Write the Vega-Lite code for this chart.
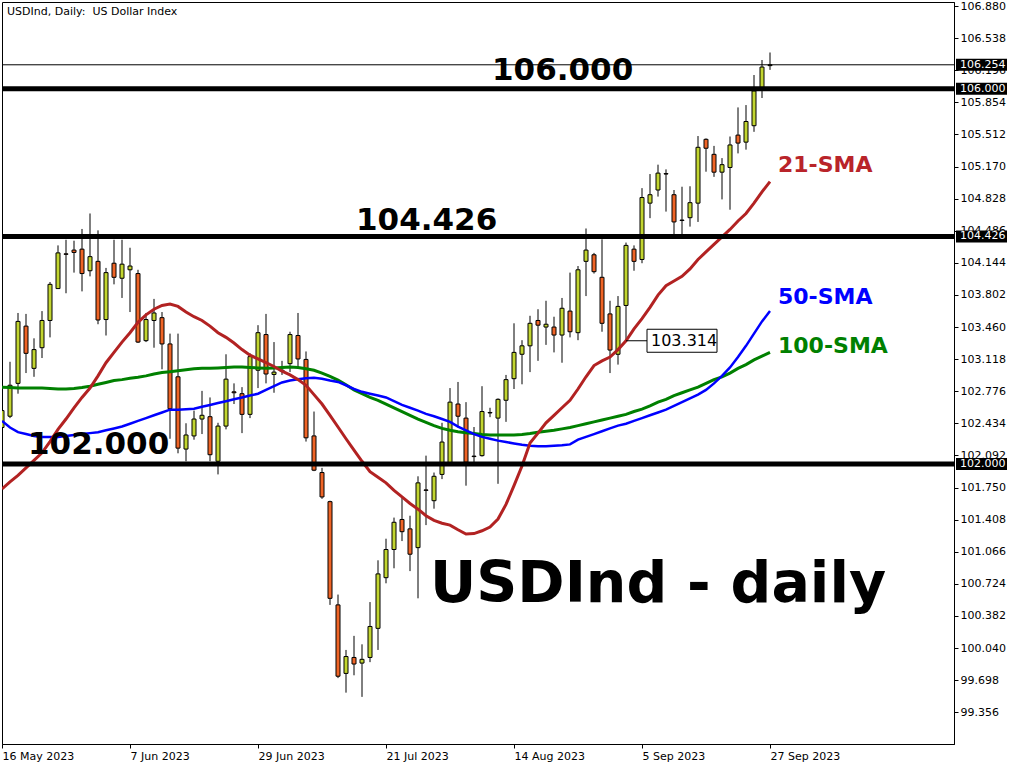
{
  "$schema": "https://vega.github.io/schema/vega-lite/v6.json",
  "width": 952,
  "height": 742,
  "autosize": {"type": "none"},
  "padding": {"left": 2, "top": 2, "right": 70, "bottom": 24},
  "background": "white",
  "config": {
    "view": {"stroke": "black", "strokeWidth": 1},
    "font": "DejaVu Sans",
    "axis": {"labelOverlap": false}
  },
  "datasets": {
    "bars": [
      {"d":"16 May 2023","o":102.39,"h":102.62,"l":102.33,"c":102.57,"s21":101.735,"s50":102.46,"s100":102.82},
      {"d":"17 May 2023","o":102.51,"h":103.09,"l":102.49,"c":102.84,"s21":101.81,"s50":102.39,"s100":102.815},
      {"d":"18 May 2023","o":102.86,"h":103.61,"l":102.75,"c":103.52,"s21":101.88,"s50":102.34,"s100":102.81},
      {"d":"19 May 2023","o":103.47,"h":103.60,"l":102.97,"c":103.18,"s21":101.96,"s50":102.32,"s100":102.81},
      {"d":"22 May 2023","o":103.02,"h":103.34,"l":102.93,"c":103.22,"s21":102.04,"s50":102.30,"s100":102.81},
      {"d":"23 May 2023","o":103.24,"h":103.63,"l":103.13,"c":103.53,"s21":102.12,"s50":102.29,"s100":102.81},
      {"d":"24 May 2023","o":103.53,"h":103.94,"l":103.35,"c":103.915,"s21":102.24,"s50":102.29,"s100":102.805},
      {"d":"25 May 2023","o":103.87,"h":104.33,"l":103.865,"c":104.25,"s21":102.37,"s50":102.29,"s100":102.80},
      {"d":"26 May 2023","o":104.24,"h":104.39,"l":103.82,"c":104.235,"s21":102.48,"s50":102.30,"s100":102.80},
      {"d":"29 May 2023","o":104.28,"h":104.38,"l":104.04,"c":104.255,"s21":102.60,"s50":102.31,"s100":102.805},
      {"d":"30 May 2023","o":104.29,"h":104.505,"l":103.84,"c":104.03,"s21":102.71,"s50":102.32,"s100":102.815},
      {"d":"31 May 2023","o":104.06,"h":104.67,"l":104.00,"c":104.21,"s21":102.81,"s50":102.33,"s100":102.83},
      {"d":"1 Jun 2023","o":104.16,"h":104.49,"l":103.49,"c":103.535,"s21":102.94,"s50":102.34,"s100":102.85},
      {"d":"2 Jun 2023","o":103.54,"h":104.09,"l":103.37,"c":104.04,"s21":103.08,"s50":102.36,"s100":102.87},
      {"d":"5 Jun 2023","o":104.14,"h":104.39,"l":103.915,"c":103.99,"s21":103.19,"s50":102.38,"s100":102.89},
      {"d":"6 Jun 2023","o":103.98,"h":104.39,"l":103.77,"c":104.13,"s21":103.30,"s50":102.40,"s100":102.90},
      {"d":"7 Jun 2023","o":104.07,"h":104.305,"l":103.62,"c":104.11,"s21":103.40,"s50":102.43,"s100":102.915},
      {"d":"8 Jun 2023","o":104.03,"h":104.07,"l":103.29,"c":103.30,"s21":103.51,"s50":102.46,"s100":102.925},
      {"d":"9 Jun 2023","o":103.315,"h":103.61,"l":103.30,"c":103.54,"s21":103.59,"s50":102.49,"s100":102.94},
      {"d":"12 Jun 2023","o":103.53,"h":103.76,"l":103.24,"c":103.61,"s21":103.65,"s50":102.52,"s100":102.96},
      {"d":"13 Jun 2023","o":103.56,"h":103.62,"l":103.01,"c":103.28,"s21":103.69,"s50":102.55,"s100":102.975},
      {"d":"14 Jun 2023","o":103.28,"h":103.39,"l":102.27,"c":102.59,"s21":103.705,"s50":102.58,"s100":102.985},
      {"d":"15 Jun 2023","o":102.93,"h":103.39,"l":102.115,"c":102.17,"s21":103.68,"s50":102.58,"s100":102.995},
      {"d":"16 Jun 2023","o":102.16,"h":102.435,"l":102.03,"c":102.31,"s21":103.62,"s50":102.585,"s100":103.005},
      {"d":"19 Jun 2023","o":102.30,"h":102.57,"l":102.26,"c":102.48,"s21":103.57,"s50":102.59,"s100":103.015},
      {"d":"20 Jun 2023","o":102.48,"h":102.78,"l":102.32,"c":102.52,"s21":103.53,"s50":102.61,"s100":103.02},
      {"d":"21 Jun 2023","o":102.505,"h":102.71,"l":102.03,"c":102.10,"s21":103.47,"s50":102.63,"s100":103.02},
      {"d":"22 Jun 2023","o":102.03,"h":102.44,"l":101.89,"c":102.405,"s21":103.40,"s50":102.65,"s100":103.025},
      {"d":"23 Jun 2023","o":102.405,"h":103.17,"l":102.37,"c":102.905,"s21":103.35,"s50":102.67,"s100":103.03},
      {"d":"26 Jun 2023","o":102.77,"h":102.86,"l":102.64,"c":102.76,"s21":103.29,"s50":102.69,"s100":103.035},
      {"d":"27 Jun 2023","o":102.75,"h":102.82,"l":102.33,"c":102.53,"s21":103.22,"s50":102.71,"s100":103.035},
      {"d":"28 Jun 2023","o":102.53,"h":103.18,"l":102.49,"c":103.145,"s21":103.16,"s50":102.73,"s100":103.03},
      {"d":"29 Jun 2023","o":103.00,"h":103.48,"l":102.81,"c":103.40,"s21":103.12,"s50":102.75,"s100":103.025},
      {"d":"30 Jun 2023","o":103.38,"h":103.60,"l":102.86,"c":102.96,"s21":103.08,"s50":102.79,"s100":103.02},
      {"d":"3 Jul 2023","o":102.955,"h":103.30,"l":102.76,"c":102.98,"s21":103.04,"s50":102.83,"s100":103.025},
      {"d":"4 Jul 2023","o":103.00,"h":103.10,"l":102.95,"c":102.99,"s21":102.99,"s50":102.87,"s100":103.03},
      {"d":"5 Jul 2023","o":103.07,"h":103.41,"l":102.98,"c":103.38,"s21":102.95,"s50":102.89,"s100":103.035},
      {"d":"6 Jul 2023","o":103.37,"h":103.61,"l":103.02,"c":103.12,"s21":102.90,"s50":102.905,"s100":103.03},
      {"d":"7 Jul 2023","o":103.115,"h":103.20,"l":102.24,"c":102.28,"s21":102.84,"s50":102.915,"s100":103.015},
      {"d":"10 Jul 2023","o":102.30,"h":102.56,"l":101.925,"c":101.935,"s21":102.74,"s50":102.92,"s100":103.00},
      {"d":"11 Jul 2023","o":101.91,"h":101.96,"l":101.63,"c":101.65,"s21":102.64,"s50":102.91,"s100":102.97},
      {"d":"12 Jul 2023","o":101.60,"h":101.61,"l":100.50,"c":100.57,"s21":102.52,"s50":102.89,"s100":102.935},
      {"d":"13 Jul 2023","o":100.50,"h":100.61,"l":99.72,"c":99.74,"s21":102.395,"s50":102.875,"s100":102.895},
      {"d":"14 Jul 2023","o":99.77,"h":100.02,"l":99.565,"c":99.95,"s21":102.27,"s50":102.84,"s100":102.845},
      {"d":"17 Jul 2023","o":99.94,"h":100.17,"l":99.75,"c":99.87,"s21":102.15,"s50":102.80,"s100":102.79},
      {"d":"18 Jul 2023","o":99.88,"h":100.08,"l":99.52,"c":99.92,"s21":102.03,"s50":102.77,"s100":102.75},
      {"d":"19 Jul 2023","o":99.94,"h":100.53,"l":99.89,"c":100.27,"s21":101.92,"s50":102.75,"s100":102.71},
      {"d":"20 Jul 2023","o":100.25,"h":100.975,"l":100.02,"c":100.83,"s21":101.86,"s50":102.73,"s100":102.68},
      {"d":"21 Jul 2023","o":100.79,"h":101.205,"l":100.73,"c":101.09,"s21":101.80,"s50":102.71,"s100":102.64},
      {"d":"24 Jul 2023","o":101.09,"h":101.43,"l":100.89,"c":101.38,"s21":101.72,"s50":102.67,"s100":102.60},
      {"d":"25 Jul 2023","o":101.41,"h":101.65,"l":101.18,"c":101.28,"s21":101.65,"s50":102.63,"s100":102.56},
      {"d":"26 Jul 2023","o":101.31,"h":101.45,"l":100.86,"c":101.04,"s21":101.58,"s50":102.60,"s100":102.52},
      {"d":"27 Jul 2023","o":101.11,"h":101.87,"l":100.57,"c":101.80,"s21":101.52,"s50":102.57,"s100":102.48},
      {"d":"28 Jul 2023","o":101.725,"h":102.09,"l":101.35,"c":101.72,"s21":101.45,"s50":102.535,"s100":102.445},
      {"d":"31 Jul 2023","o":101.61,"h":101.91,"l":101.525,"c":101.87,"s21":101.40,"s50":102.51,"s100":102.41},
      {"d":"1 Aug 2023","o":101.89,"h":102.44,"l":101.84,"c":102.235,"s21":101.37,"s50":102.48,"s100":102.38},
      {"d":"2 Aug 2023","o":102.01,"h":102.81,"l":101.98,"c":102.66,"s21":101.35,"s50":102.45,"s100":102.36},
      {"d":"3 Aug 2023","o":102.64,"h":102.875,"l":102.39,"c":102.51,"s21":101.30,"s50":102.40,"s100":102.345},
      {"d":"4 Aug 2023","o":102.49,"h":102.66,"l":101.77,"c":102.02,"s21":101.255,"s50":102.36,"s100":102.335},
      {"d":"7 Aug 2023","o":102.085,"h":102.395,"l":102.02,"c":102.08,"s21":101.26,"s50":102.32,"s100":102.325},
      {"d":"8 Aug 2023","o":102.09,"h":102.83,"l":102.08,"c":102.56,"s21":101.29,"s50":102.29,"s100":102.315},
      {"d":"9 Aug 2023","o":102.55,"h":102.60,"l":102.50,"c":102.545,"s21":101.33,"s50":102.27,"s100":102.31},
      {"d":"10 Aug 2023","o":102.49,"h":102.70,"l":101.79,"c":102.69,"s21":101.415,"s50":102.25,"s100":102.31},
      {"d":"11 Aug 2023","o":102.68,"h":102.95,"l":102.45,"c":102.90,"s21":101.57,"s50":102.235,"s100":102.31},
      {"d":"14 Aug 2023","o":102.91,"h":103.50,"l":102.80,"c":103.19,"s21":101.77,"s50":102.22,"s100":102.31},
      {"d":"15 Aug 2023","o":103.17,"h":103.32,"l":102.85,"c":103.26,"s21":101.98,"s50":102.205,"s100":102.315},
      {"d":"16 Aug 2023","o":103.26,"h":103.58,"l":102.98,"c":103.50,"s21":102.225,"s50":102.195,"s100":102.325},
      {"d":"17 Aug 2023","o":103.53,"h":103.65,"l":103.10,"c":103.48,"s21":102.33,"s50":102.19,"s100":102.34},
      {"d":"18 Aug 2023","o":103.46,"h":103.74,"l":103.27,"c":103.49,"s21":102.44,"s50":102.19,"s100":102.35},
      {"d":"21 Aug 2023","o":103.46,"h":103.57,"l":103.19,"c":103.375,"s21":102.52,"s50":102.195,"s100":102.36},
      {"d":"22 Aug 2023","o":103.375,"h":103.77,"l":103.08,"c":103.66,"s21":102.60,"s50":102.20,"s100":102.375},
      {"d":"23 Aug 2023","o":103.63,"h":104.04,"l":103.35,"c":103.41,"s21":102.68,"s50":102.21,"s100":102.39},
      {"d":"24 Aug 2023","o":103.40,"h":104.11,"l":103.32,"c":104.07,"s21":102.80,"s50":102.26,"s100":102.41},
      {"d":"25 Aug 2023","o":104.16,"h":104.51,"l":103.79,"c":104.28,"s21":102.93,"s50":102.29,"s100":102.43},
      {"d":"28 Aug 2023","o":104.23,"h":104.25,"l":104.03,"c":104.05,"s21":103.05,"s50":102.32,"s100":102.45},
      {"d":"29 Aug 2023","o":103.99,"h":104.395,"l":103.41,"c":103.50,"s21":103.10,"s50":102.35,"s100":102.47},
      {"d":"30 Aug 2023","o":103.60,"h":103.74,"l":102.97,"c":103.215,"s21":103.14,"s50":102.38,"s100":102.49},
      {"d":"31 Aug 2023","o":103.17,"h":103.79,"l":103.06,"c":103.68,"s21":103.22,"s50":102.41,"s100":102.51},
      {"d":"1 Sep 2023","o":103.69,"h":104.36,"l":103.32,"c":104.33,"s21":103.314,"s50":102.43,"s100":102.53},
      {"d":"4 Sep 2023","o":104.29,"h":104.33,"l":104.06,"c":104.16,"s21":103.44,"s50":102.46,"s100":102.56},
      {"d":"5 Sep 2023","o":104.18,"h":104.94,"l":104.14,"c":104.84,"s21":103.55,"s50":102.49,"s100":102.585},
      {"d":"6 Sep 2023","o":104.78,"h":105.09,"l":104.62,"c":104.87,"s21":103.67,"s50":102.52,"s100":102.62},
      {"d":"7 Sep 2023","o":104.92,"h":105.19,"l":104.85,"c":105.10,"s21":103.80,"s50":102.55,"s100":102.66},
      {"d":"8 Sep 2023","o":105.095,"h":105.14,"l":104.69,"c":105.09,"s21":103.90,"s50":102.58,"s100":102.69},
      {"d":"11 Sep 2023","o":104.87,"h":104.92,"l":104.44,"c":104.58,"s21":103.95,"s50":102.62,"s100":102.73},
      {"d":"12 Sep 2023","o":104.60,"h":104.955,"l":104.44,"c":104.595,"s21":104.00,"s50":102.66,"s100":102.76},
      {"d":"13 Sep 2023","o":104.625,"h":104.96,"l":104.53,"c":104.785,"s21":104.08,"s50":102.70,"s100":102.79},
      {"d":"14 Sep 2023","o":104.78,"h":105.495,"l":104.58,"c":105.375,"s21":104.18,"s50":102.74,"s100":102.82},
      {"d":"15 Sep 2023","o":105.46,"h":105.47,"l":105.115,"c":105.365,"s21":104.26,"s50":102.79,"s100":102.86},
      {"d":"18 Sep 2023","o":105.30,"h":105.39,"l":105.06,"c":105.11,"s21":104.34,"s50":102.86,"s100":102.90},
      {"d":"19 Sep 2023","o":105.11,"h":105.26,"l":104.82,"c":105.19,"s21":104.42,"s50":102.94,"s100":102.93},
      {"d":"20 Sep 2023","o":105.16,"h":105.49,"l":104.71,"c":105.40,"s21":104.50,"s50":103.03,"s100":102.97},
      {"d":"21 Sep 2023","o":105.505,"h":105.80,"l":105.31,"c":105.42,"s21":104.59,"s50":103.14,"s100":103.02},
      {"d":"22 Sep 2023","o":105.43,"h":105.825,"l":105.35,"c":105.65,"s21":104.67,"s50":103.26,"s100":103.06},
      {"d":"25 Sep 2023","o":105.605,"h":106.145,"l":105.54,"c":105.975,"s21":104.78,"s50":103.39,"s100":103.11},
      {"d":"26 Sep 2023","o":106.00,"h":106.305,"l":105.90,"c":106.23,"s21":104.90,"s50":103.52,"s100":103.15},
      {"d":"27 Sep 2023","o":106.245,"h":106.385,"l":106.20,"c":106.254,"s21":105.01,"s50":103.63,"s100":103.19}
    ],
    "levels": [{"lv": 106.0}, {"lv": 104.426}, {"lv": 102.0}],
    "priceBoxes": [{"p": 106.254}, {"p": 106.0}, {"p": 104.426}, {"p": 102.0}],
    "levelText": [
      {"t": "106.000", "d": "9 Aug 2023", "v": 106.092},
      {"t": "104.426", "d": "17 Jul 2023", "v": 104.494},
      {"t": "102.000", "d": "19 May 2023", "v": 102.108}
    ],
    "smaText": [
      {"t": "21-SMA", "d": "28 Sep 2023", "v": 105.115},
      {"t": "50-SMA", "d": "28 Sep 2023", "v": 103.702},
      {"t": "100-SMA", "d": "28 Sep 2023", "v": 103.18}
    ],
    "callout": [{"a": "1 Sep 2023", "b": "5 Sep 2023", "c": "6 Sep 2023", "e": "18 Sep 2023", "v": 103.314}]
  },
  "layer": [
    {
      "data": {"name": "bars"},
      "mark": {"type": "rule", "color": "black", "strokeWidth": 1, "clip": true},
      "encoding": {
        "x": {
          "field": "d", "type": "ordinal", "sort": null,
          "scale": {
            "type": "point", "padding": 0,
            "domain": ["16 May 2023","17 May 2023","18 May 2023","19 May 2023","22 May 2023","23 May 2023","24 May 2023","25 May 2023","26 May 2023","29 May 2023","30 May 2023","31 May 2023","1 Jun 2023","2 Jun 2023","5 Jun 2023","6 Jun 2023","7 Jun 2023","8 Jun 2023","9 Jun 2023","12 Jun 2023","13 Jun 2023","14 Jun 2023","15 Jun 2023","16 Jun 2023","19 Jun 2023","20 Jun 2023","21 Jun 2023","22 Jun 2023","23 Jun 2023","26 Jun 2023","27 Jun 2023","28 Jun 2023","29 Jun 2023","30 Jun 2023","3 Jul 2023","4 Jul 2023","5 Jul 2023","6 Jul 2023","7 Jul 2023","10 Jul 2023","11 Jul 2023","12 Jul 2023","13 Jul 2023","14 Jul 2023","17 Jul 2023","18 Jul 2023","19 Jul 2023","20 Jul 2023","21 Jul 2023","24 Jul 2023","25 Jul 2023","26 Jul 2023","27 Jul 2023","28 Jul 2023","31 Jul 2023","1 Aug 2023","2 Aug 2023","3 Aug 2023","4 Aug 2023","7 Aug 2023","8 Aug 2023","9 Aug 2023","10 Aug 2023","11 Aug 2023","14 Aug 2023","15 Aug 2023","16 Aug 2023","17 Aug 2023","18 Aug 2023","21 Aug 2023","22 Aug 2023","23 Aug 2023","24 Aug 2023","25 Aug 2023","28 Aug 2023","29 Aug 2023","30 Aug 2023","31 Aug 2023","1 Sep 2023","4 Sep 2023","5 Sep 2023","6 Sep 2023","7 Sep 2023","8 Sep 2023","11 Sep 2023","12 Sep 2023","13 Sep 2023","14 Sep 2023","15 Sep 2023","18 Sep 2023","19 Sep 2023","20 Sep 2023","21 Sep 2023","22 Sep 2023","25 Sep 2023","26 Sep 2023","27 Sep 2023","28 Sep 2023","29 Sep 2023","2 Oct 2023","3 Oct 2023","4 Oct 2023","5 Oct 2023","6 Oct 2023","9 Oct 2023","10 Oct 2023","11 Oct 2023","12 Oct 2023","13 Oct 2023","16 Oct 2023","17 Oct 2023","18 Oct 2023","19 Oct 2023","20 Oct 2023","23 Oct 2023","24 Oct 2023","25 Oct 2023","26 Oct 2023","27 Oct 2023","30 Oct 2023"]
          },
          "axis": {
            "title": null, "orient": "bottom",
            "values": ["16 May 2023", "7 Jun 2023", "29 Jun 2023", "21 Jul 2023", "14 Aug 2023", "5 Sep 2023", "27 Sep 2023"],
            "labelAngle": 0, "labelAlign": "left", "labelBaseline": "top", "labelPadding": 2,
            "tickSize": 4, "labelFont": "DejaVu Sans", "labelFontSize": 11, "labelColor": "black",
            "tickColor": "black", "domainColor": "black", "grid": false,
            "labelOverlap": false, "labelFlush": false, "labelBound": false
          }
        },
        "y": {
          "field": "l", "type": "quantitative",
          "scale": {"domain": [99.018, 106.923], "nice": false, "zero": false},
          "axis": {
            "title": null, "orient": "right", "tickCount": 60,
            "values": [99.356, 99.698, 100.04, 100.382, 100.724, 101.066, 101.408, 101.75, 102.092, 102.434, 102.776, 103.118, 103.46, 103.802, 104.144, 104.486, 104.828, 105.17, 105.512, 105.854, 106.196, 106.538, 106.88],
            "format": ".3f", "grid": false, "tickSize": 4, "labelPadding": 2, "labelAlign": "left",
            "labelFont": "DejaVu Sans", "labelFontSize": 11, "labelColor": "black",
            "tickColor": "black", "domainColor": "black",
            "labelOverlap": false, "labelFlush": false, "labelBound": false
          }
        },
        "y2": {"field": "h"}
      }
    },
    {
      "data": {"name": "bars"},
      "mark": {"type": "bar", "size": 4, "stroke": "black", "strokeWidth": 1, "clip": true},
      "encoding": {
        "x": {"field": "d", "type": "ordinal", "sort": null, "scale": {"type": "point", "padding": 0}},
        "y": {"field": "o", "type": "quantitative"},
        "y2": {"field": "c"},
        "fill": {"condition": {"test": "datum.c >= datum.o", "value": "#c2d530"}, "value": "#ef6426"}
      }
    },
    {
      "data": {"name": "bars"},
      "mark": {"type": "line", "color": "#008000", "strokeWidth": 3, "clip": true},
      "encoding": {
        "x": {"field": "d", "type": "ordinal", "sort": null, "scale": {"type": "point", "padding": 0}},
        "y": {"field": "s100", "type": "quantitative"},
        "order": {"value": null}
      }
    },
    {
      "data": {"name": "bars"},
      "mark": {"type": "line", "color": "#0000ff", "strokeWidth": 2.5, "clip": true},
      "encoding": {
        "x": {"field": "d", "type": "ordinal", "sort": null, "scale": {"type": "point", "padding": 0}},
        "y": {"field": "s50", "type": "quantitative"},
        "order": {"value": null}
      }
    },
    {
      "data": {"name": "bars"},
      "mark": {"type": "line", "color": "#b22222", "strokeWidth": 3, "clip": true},
      "encoding": {
        "x": {"field": "d", "type": "ordinal", "sort": null, "scale": {"type": "point", "padding": 0}},
        "y": {"field": "s21", "type": "quantitative"},
        "order": {"value": null}
      }
    },
    {
      "data": {"name": "levels"},
      "mark": {"type": "rule", "color": "black", "strokeWidth": 5},
      "encoding": {"y": {"field": "lv", "type": "quantitative"}}
    },
    {
      "data": {"values": [{"p": 106.254}]},
      "mark": {"type": "rule", "color": "black", "strokeWidth": 1},
      "encoding": {"y": {"field": "p", "type": "quantitative"}}
    },
    {
      "data": {"name": "levelText"},
      "mark": {"type": "text", "font": "DejaVu Sans", "fontWeight": "bold", "fontSize": 31, "align": "left", "baseline": "alphabetic", "dx": 2, "color": "black"},
      "encoding": {
        "x": {"field": "d", "type": "ordinal", "sort": null, "scale": {"type": "point", "padding": 0}},
        "y": {"field": "v", "type": "quantitative"},
        "text": {"field": "t"}
      }
    },
    {
      "data": {"name": "smaText"},
      "mark": {"type": "text", "font": "DejaVu Sans", "fontWeight": "bold", "fontSize": 22, "align": "left", "baseline": "alphabetic"},
      "encoding": {
        "x": {"field": "d", "type": "ordinal", "sort": null, "scale": {"type": "point", "padding": 0}},
        "y": {"field": "v", "type": "quantitative"},
        "text": {"field": "t"},
        "color": {"field": "t", "type": "nominal", "scale": {"domain": ["21-SMA", "50-SMA", "100-SMA"], "range": ["#b9242a", "#0000ff", "#008000"]}, "legend": null}
      }
    },
    {
      "data": {"values": [{"t": "USDInd - daily", "d": "28 Jul 2023", "v": 100.534}]},
      "mark": {"type": "text", "font": "DejaVu Sans", "fontWeight": "bold", "fontSize": 57, "align": "left", "baseline": "alphabetic", "dx": 4, "color": "black"},
      "encoding": {
        "x": {"field": "d", "type": "ordinal", "sort": null, "scale": {"type": "point", "padding": 0}},
        "y": {"field": "v", "type": "quantitative"},
        "text": {"field": "t"}
      }
    },
    {
      "data": {"values": [{"t": "USDInd, Daily:\u00a0 US Dollar Index", "d": "16 May 2023", "v": 106.923}]},
      "mark": {"type": "text", "font": "DejaVu Sans", "fontSize": 11, "align": "left", "baseline": "top", "dx": 5, "dy": 4, "color": "black"},
      "encoding": {
        "x": {"field": "d", "type": "ordinal", "sort": null, "scale": {"type": "point", "padding": 0}},
        "y": {"field": "v", "type": "quantitative"},
        "text": {"field": "t"}
      }
    },
    {
      "data": {"name": "callout"},
      "mark": {"type": "rule", "color": "black", "strokeWidth": 1, "x2Offset": 5},
      "encoding": {
        "x": {"field": "a", "type": "ordinal", "sort": null, "scale": {"type": "point", "padding": 0}},
        "x2": {"field": "b"},
        "y": {"field": "v", "type": "quantitative"}
      }
    },
    {
      "data": {"name": "callout"},
      "mark": {"type": "rect", "fill": "white", "stroke": "black", "strokeWidth": 1, "xOffset": -3, "x2Offset": 3, "yOffset": -11.5, "y2Offset": 11.5},
      "encoding": {
        "x": {"field": "c", "type": "ordinal", "sort": null, "scale": {"type": "point", "padding": 0}},
        "x2": {"field": "e"},
        "y": {"field": "v", "type": "quantitative"},
        "y2": {"field": "v"}
      }
    },
    {
      "data": {"name": "callout"},
      "mark": {"type": "text", "font": "DejaVu Sans", "fontSize": 16, "align": "left", "baseline": "middle", "dx": 1, "color": "black"},
      "encoding": {
        "x": {"field": "c", "type": "ordinal", "sort": null, "scale": {"type": "point", "padding": 0}},
        "y": {"field": "v", "type": "quantitative"},
        "text": {"field": "v", "type": "quantitative", "format": ".3f"}
      }
    },
    {
      "data": {"name": "priceBoxes"},
      "mark": {"type": "rect", "color": "black", "xOffset": 2, "x2Offset": 53, "yOffset": -6, "y2Offset": 6},
      "encoding": {
        "x": {"value": "width"},
        "x2": {"value": "width"},
        "y": {"field": "p", "type": "quantitative"},
        "y2": {"field": "p"}
      }
    },
    {
      "data": {"name": "priceBoxes"},
      "mark": {"type": "text", "font": "DejaVu Sans", "fontSize": 11, "align": "left", "baseline": "middle", "dx": 6, "color": "white"},
      "encoding": {
        "x": {"value": "width"},
        "y": {"field": "p", "type": "quantitative"},
        "text": {"field": "p", "type": "quantitative", "format": ".3f"}
      }
    }
  ]
}
